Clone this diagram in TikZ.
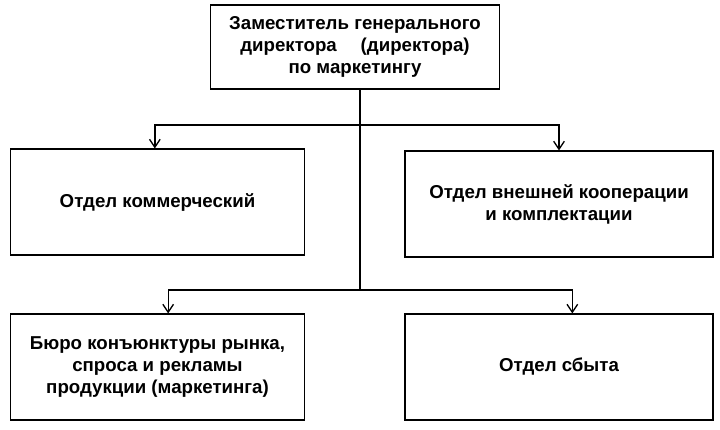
\documentclass[tikz,border=0pt]{standalone}
\usepackage{fontspec}
\setmainfont{Liberation Sans}
\usetikzlibrary{arrows.meta}
\tikzset{every picture/.style={line width=1pt}}
\tikzset{
	unit/.style={draw, thick, minimum height=79.5pt, align=center, font=\bfseries\fontsize{14}{16.5}\selectfont, inner sep=2pt},
	link/.style={-{Straight Barb[length=6pt,width=8pt]}}
}

\begin{document}
\begin{tikzpicture}[x=0.75pt,y=0.75pt,yscale=-1,xscale=1]
	\useasboundingbox (0,0) rectangle (720,429);
	
	% Head
	\node [unit, minimum width=217pt, minimum height=63pt] (head) at (355,47) {Заместитель генерального\\директора \quad (директора)\\по маркетингу};
	% Departments
	\node [unit, minimum width=221pt] (comm) at (157.5,202) {Отдел коммерческий};
	\node [unit, minimum width=231pt] (coop) at (559,204) {Отдел внешней кооперации\\и комплектации};
	\node [unit, minimum width=221pt] (bureau) at (157.5,367) {Бюро конъюнктуры рынка,\\спроса и рекламы\\продукции (маркетинга)};
	\node [unit, minimum width=231pt] (sales) at (559,367) {Отдел сбыта};
	
	% Connectors
	\coordinate (j1) at (360,125);
	\coordinate (j2) at (360,290);
	\draw (head.south -| j1) -- (j2);
	\draw [link] (j1) -| ([xshift=-2pt]comm.north);
	\draw [link] (j1) -| (coop.north);
	\draw [link] (j2) -| ([xshift=8pt]bureau.north);
	\draw [link] (j2) -| ([xshift=10pt]sales.north);
	
\end{tikzpicture}
\end{document}
